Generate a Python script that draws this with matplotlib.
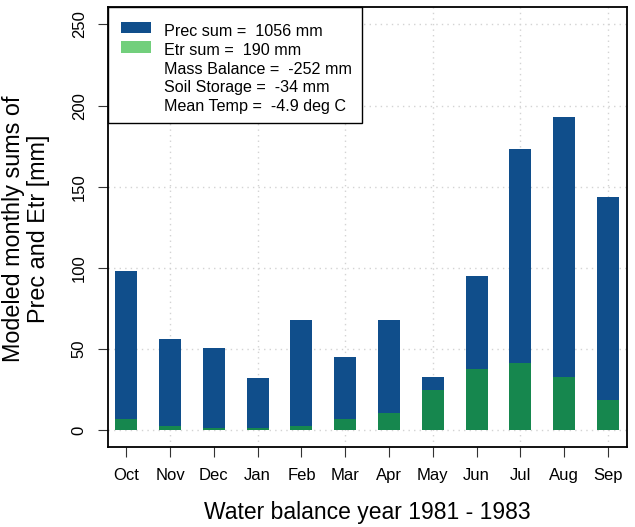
import matplotlib
matplotlib.use("Agg")
import matplotlib.pyplot as plt
from matplotlib.patches import Rectangle

# monthly sums, water balance year Oct 1981 - Sep 1983
months = ["Oct", "Nov", "Dec", "Jan", "Feb", "Mar", "Apr", "May", "Jun", "Jul", "Aug", "Sep"]
prec = [98, 56, 51, 32, 68, 45, 68, 33, 95, 173, 193, 144]
etr = [7, 3, 1.5, 1.5, 3, 7, 11, 25, 38, 41.5, 33, 18.5]

legend_text = ["Prec sum =  1056 mm", "Etr sum =  190 mm", "Mass Balance =  -252 mm",
               "Soil Storage =  -34 mm", "Mean Temp =  -4.9 deg C"]

blue = "#104E8B"
green = "#16874E"
green_leg = "#72CF7C"

plt.rcParams["font.family"] = ["Liberation Sans", "DejaVu Sans"]

W, H = 635, 527
fig = plt.figure(figsize=(W / 100, H / 100), dpi=100)
ax = fig.add_axes([108.3 / W, 1 - 446.7 / H, (627.3 - 108.3) / W, (446.7 - 7.3) / H])

x = list(range(len(months)))
ax.bar(x, prec, width=0.5, color=blue, zorder=2)
ax.bar(x, etr, width=0.5, color=green, zorder=3)

ax.set_xlim(-0.41, 11.44)
ax.set_ylim(-10, 260.5)

# dotted grid
for yv in range(0, 251, 50):
    ax.axhline(yv, color="#d3d3d3", lw=1, ls=(0, (1, 3)), zorder=1)
for xv in x[1::2]:
    ax.axvline(xv, color="#d3d3d3", lw=1, ls=(0, (1, 3)), zorder=1)

ax.set_xticks(x)
ax.set_xticklabels(months, fontsize=12)
ax.set_yticks(range(0, 251, 50))
ax.set_yticklabels([str(v) for v in range(0, 251, 50)], fontsize=12, rotation=90, va="center")
ax.tick_params(axis="x", length=7.5, width=0.8, pad=8, color="#333333")
ax.tick_params(axis="y", length=7.5, width=0.8, pad=8, color="#333333")
for s in ax.spines.values():
    s.set_linewidth(1.3)

ax.set_xlabel("Water balance year 1981 - 1983", fontsize=16.5, labelpad=13)
fig.text(14 / W, 1 - 229 / H, "Modeled monthly sums of", rotation=90, fontsize=16.8,
         ha="center", va="center")
fig.text(39 / W, 1 - 229 / H, "Prec and Etr [mm]", rotation=90, fontsize=16.8,
         ha="center", va="center")

# legend drawn like R's legend box
def fx(px):
    return px / W

def fy(py):
    return 1 - py / H

fig.patches.append(Rectangle((fx(108.3), fy(123.3)), fx(361.7) - fx(108.3), fy(7.3) - fy(123.3),
                             transform=fig.transFigure, facecolor="white", edgecolor="black",
                             lw=1.0, zorder=5))
fig.patches.append(Rectangle((fx(121.3), fy(33.3)), fx(150.7) - fx(121.3), fy(21.7) - fy(33.3),
                             transform=fig.transFigure, facecolor=blue, edgecolor="none", zorder=6))
fig.patches.append(Rectangle((fx(121.3), fy(52.7)), fx(150.7) - fx(121.3), fy(41) - fy(52.7),
                             transform=fig.transFigure, facecolor=green_leg, edgecolor="none", zorder=6))
for i, t in enumerate(legend_text):
    fig.text(fx(164.3), fy(36 + 18.8 * i), t, fontsize=11.6, ha="left", va="baseline", zorder=7)

fig.savefig("out.png", dpi=100)
